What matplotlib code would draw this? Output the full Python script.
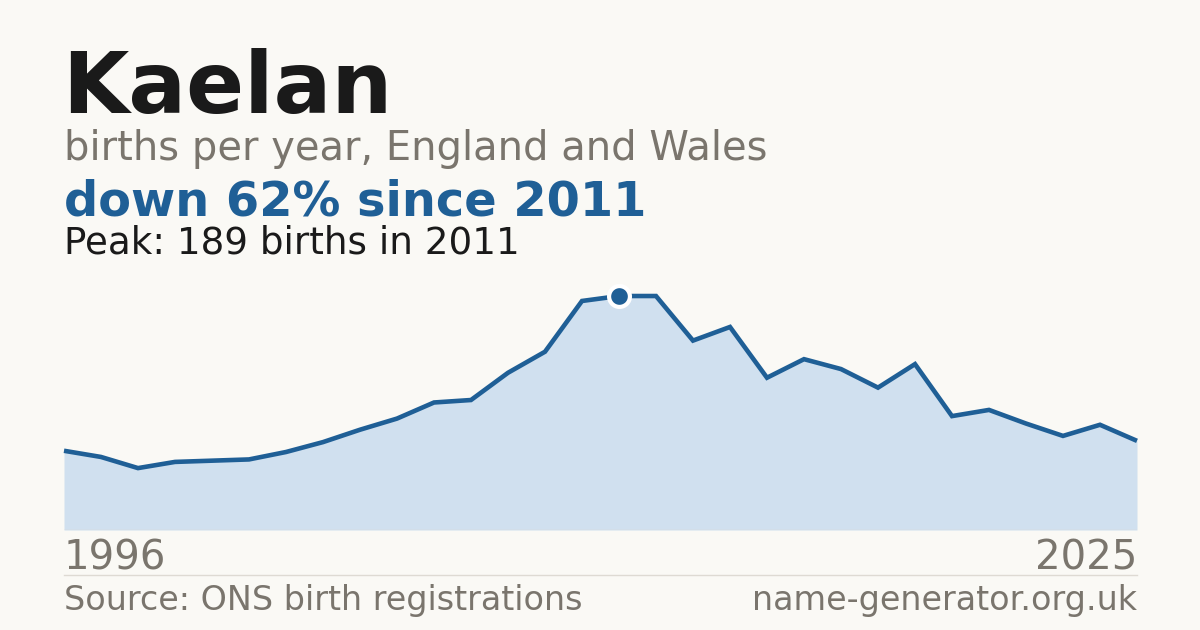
import matplotlib
matplotlib.use("Agg")
import matplotlib.pyplot as plt

years = list(range(1996, 2026))
births = [64, 59, 50, 55, 56, 57, 63, 71, 81, 90, 103, 105, 127, 144, 185,
          189, 189, 153, 164, 123, 138, 130, 115, 134, 92, 97, 86, 76, 85, 72]

name = "Kaelan"
subtitle = "births per year, England and Wales"
headline = "down 62% since 2011"
peak_text = "Peak: 189 births in 2011"
source = "Source: ONS birth registrations"
site = "name-generator.org.uk"

BG = "#faf9f5"
BLUE = "#1f5f96"
FILL = "#d0e0ef"
GREY = "#7a756d"
DARK = "#1a1a1a"

W, H = 1200, 630
fig = plt.figure(figsize=(12, 6.3), dpi=100, facecolor=BG)
plt.rcParams['font.family'] = ['DejaVu Sans']

def fx(px):
    return px / W

def fy(py):
    return 1 - py / H

left, right = 64, 1137
top_px, bot_px = 280, 530
ax = fig.add_axes([fx(left), fy(bot_px), fx(right) - fx(left), (bot_px - top_px) / H])
ax.set_facecolor(BG)
ymax = (bot_px - top_px) / 1.238
ax.set_xlim(years[0], years[-1])
ax.set_ylim(0, ymax)
ax.fill_between(years, births, 0, color=FILL, linewidth=0, zorder=1)
ax.plot(years, births, color=BLUE, linewidth=3.3, solid_joinstyle='miter',
        solid_capstyle='butt', zorder=3, clip_on=False)
ax.axhline(0, color="#dedad3", linewidth=1, zorder=2)
pk = births.index(max(births))
ax.plot([years[pk]], [births[pk]], 'o', markersize=15, color=BLUE,
        markeredgecolor="white", markeredgewidth=3, zorder=4, clip_on=False)
ax.axis('off')

fig.text(fx(62), fy(113), name, fontsize=61.7, fontweight='bold', color=DARK, va='baseline', ha='left')
fig.text(fx(64), fy(160), subtitle, fontsize=28.8, color=GREY, va='baseline', ha='left')
fig.text(fx(64), fy(215), headline, fontsize=34.5, fontweight='bold', color=BLUE, va='baseline', ha='left')
fig.text(fx(64), fy(253), peak_text, fontsize=26.8, color=DARK, va='baseline', ha='left')

fig.text(fx(64), fy(570), str(years[0]), fontsize=29, color=GREY, va='baseline', ha='left')
fig.text(fx(1137), fy(570), str(years[-1]), fontsize=29, color=GREY, va='baseline', ha='right')

fig.add_artist(plt.Line2D([fx(64), fx(1137)], [fy(574.5), fy(574.5)], color="#dedad3", linewidth=1))

fig.text(fx(64), fy(610), source, fontsize=24, color=GREY, va='baseline', ha='left')
fig.text(fx(1137), fy(610), site, fontsize=24, color=GREY, va='baseline', ha='right')

fig.savefig("out.png", dpi=100, facecolor=BG)
